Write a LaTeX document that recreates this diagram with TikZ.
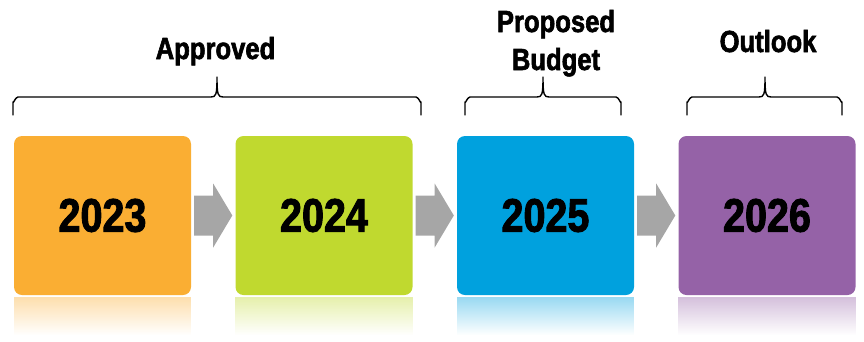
\documentclass[tikz,border=0pt]{standalone}
\usepackage{fontspec}
\setmainfont{Liberation Sans}[FakeStretch=0.84,BoldFeatures={FakeStretch=0.84,FakeBold=2}]
\usetikzlibrary{calc,fadings}
\definecolor{c1}{RGB}{250,174,51}
\definecolor{c2}{RGB}{192,217,47}
\definecolor{c3}{RGB}{0,161,222}
\definecolor{c4}{RGB}{149,98,167}
\definecolor{arrowgray}{RGB}{166,166,166}
\tikzset{
  yearbox/.style={rounded corners=8pt, minimum width=177pt, minimum height=159pt,
    inner sep=0pt, font=\bfseries\fontsize{47}{47}\selectfont},
  toplabel/.style={font=\bfseries\fontsize{30.5}{38}\selectfont, align=center, inner sep=0pt},
  bracepath/.style={line width=1.4pt, line cap=round, line join=round},
}
\newcommand{\reflect}[2]{%
  \fill[#2, path fading=south, opacity=0.4]
    ($(#1.south west)+(0,2)$) rectangle ($(#1.south east)+(0,40)$);}
\newcommand{\grayarrow}[2]{%
  \fill[arrowgray] ($(#1.east)+(3,-20)$) -- ($(#1.east)+(22,-20)$) -- ($(#1.east)+(22,-32)$)
    -- ($(#2.west)+(-3,0)$) -- ($(#1.east)+(22,32)$) -- ($(#1.east)+(22,20)$)
    -- ($(#1.east)+(3,20)$) -- cycle;}
\newcommand{\topbrace}[3]{% left, right, mid coordinates
  \draw[bracepath] ($(#1)+(0,18)$) -- ($(#1)+(0,5)$) to[out=-90,in=180] ($(#1)+(5,0)$)
    -- ($(#3)+(-6,20)$) .. controls ($(#3)+(-1,20)$) and ($(#3)+(0,18)$) .. (#3)
    .. controls ($(#3)+(0,18)$) and ($(#3)+(1,20)$) .. ($(#3)+(6,20)$)
    -- ($(#2)+(-5,0)$) to[out=0,in=-90] ($(#2)+(0,5)$) -- ($(#2)+(0,18)$);}
\begin{document}
\begin{tikzpicture}[x=1pt,y=-1pt]
\useasboundingbox (0,0) rectangle (864,341);
\node[yearbox, fill=c1] (b1) at (102.5,215.5) {2023};
\node[yearbox, fill=c2] (b2) at (324,215.5) {2024};
\node[yearbox, fill=c3] (b3) at (545.5,215.5) {2025};
\node[yearbox, fill=c4] (b4) at (767,215.5) {2026};
\reflect{b1}{c1}
\reflect{b2}{c2}
\reflect{b3}{c3}
\reflect{b4}{c4}
\grayarrow{b1}{b2}
\grayarrow{b2}{b3}
\grayarrow{b3}{b4}
\coordinate (l1) at (13,97);
\coordinate (r1) at (421,97);
\coordinate (m1) at (217,77);
\coordinate (l2) at (465,97);
\coordinate (r2) at (621,97);
\coordinate (m2) at (543,77);
\coordinate (l3) at (687,97);
\coordinate (r3) at (842,97);
\coordinate (m3) at (765,77);
\topbrace{l1}{r1}{m1}
\topbrace{l2}{r2}{m2}
\topbrace{l3}{r3}{m3}
\node[toplabel, anchor=base] (t1) at (215.5,59) {Approved};
\node[toplabel, anchor=base] (t2) at (556,70) {Proposed\\Budget};
\node[toplabel, anchor=base] (t3) at (768,52) {Outlook};
\end{tikzpicture}
\end{document}
